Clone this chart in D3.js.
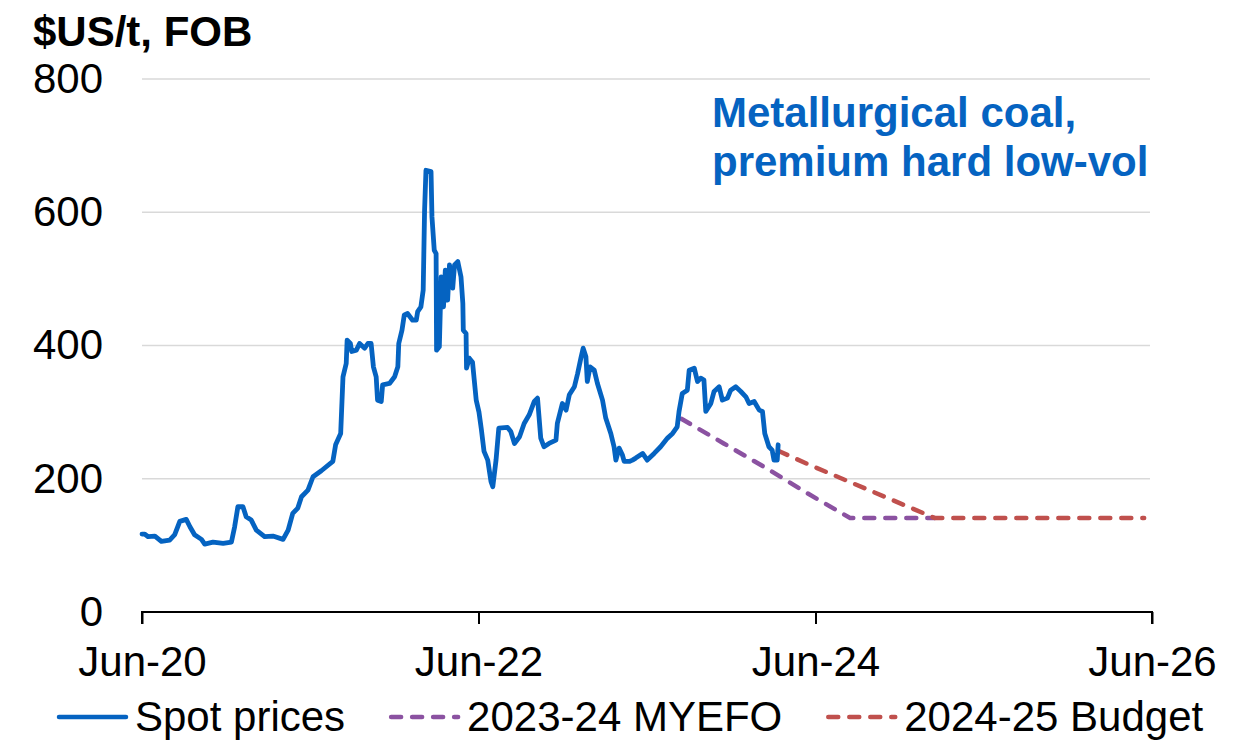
<!DOCTYPE html>
<html>
<head>
<meta charset="utf-8">
<script src="https://cdn.jsdelivr.net/npm/d3@7"></script>
<style>
  html, body { margin: 0; padding: 0; background: #fff; }
  svg { display: block; font-family: "Liberation Sans", Arial, sans-serif; }
</style>
</head>
<body>
<svg id="chart" width="1237" height="742"></svg>
<script>
// ---------------- DATA ----------------
const spotDates = [
  "2020-06-01","2020-06-07","2020-06-14","2020-06-29","2020-07-13","2020-07-31","2020-08-11","2020-08-22",
  "2020-09-05","2020-09-13","2020-09-23","2020-10-08","2020-10-15","2020-11-02","2020-11-24","2020-12-12",
  "2020-12-19","2020-12-26","2021-01-06","2021-01-13","2021-01-24","2021-02-04","2021-02-22","2021-03-12",
  "2021-04-03","2021-04-14","2021-04-24","2021-05-05","2021-05-13","2021-05-27","2021-06-07","2021-06-25",
  "2021-07-20","2021-07-26","2021-08-06","2021-08-11","2021-08-18","2021-08-20","2021-08-27","2021-08-30",
  "2021-09-09","2021-09-16","2021-09-27","2021-10-04","2021-10-11","2021-10-16","2021-10-22","2021-10-25",
  "2021-11-02","2021-11-05","2021-11-20","2021-12-01","2021-12-08","2021-12-10","2021-12-17","2021-12-22",
  "2021-12-29","2022-01-09","2022-01-17","2022-01-20","2022-01-27","2022-02-01","2022-02-04","2022-02-07",
  "2022-02-18","2022-02-20","2022-02-25","2022-03-01","2022-03-02","2022-03-08","2022-03-12","2022-03-17",
  "2022-03-21","2022-03-26","2022-03-30","2022-04-06","2022-04-10","2022-04-17","2022-04-24","2022-04-28",
  "2022-04-29","2022-05-05","2022-05-06","2022-05-12","2022-05-19","2022-05-27","2022-06-02","2022-06-07",
  "2022-06-13","2022-06-21","2022-06-28","2022-07-02","2022-07-09","2022-07-15","2022-08-03","2022-08-10",
  "2022-08-18","2022-08-29","2022-09-08","2022-09-19","2022-09-30","2022-10-07","2022-10-14","2022-10-21",
  "2022-11-01","2022-11-16","2022-11-19","2022-11-30","2022-12-08","2022-12-15","2022-12-26","2023-01-02",
  "2023-01-09","2023-01-14","2023-01-20","2023-01-23","2023-01-29","2023-02-07","2023-02-14","2023-02-25",
  "2023-03-04","2023-03-15","2023-03-22","2023-03-26","2023-04-02","2023-04-09","2023-04-13","2023-04-24",
  "2023-05-01","2023-05-08","2023-05-23","2023-06-02","2023-06-17","2023-07-01","2023-07-16","2023-07-27",
  "2023-08-06","2023-08-10","2023-08-17","2023-08-28","2023-09-01","2023-09-12","2023-09-19","2023-09-26",
  "2023-10-03","2023-10-07","2023-10-18","2023-10-25","2023-11-05","2023-11-12","2023-11-23","2023-11-30",
  "2023-12-11","2023-12-22","2024-01-02","2024-01-09","2024-01-20","2024-01-31","2024-02-07","2024-02-12",
  "2024-02-21","2024-02-28","2024-03-03","2024-03-10","2024-03-12"
];
const spotValues = [
  117,117,113,114,106,108,116,136,
  139,128,116,109,102,105,103,105,
  128,158,158,143,138,123,113,114,
  109,123,148,156,173,183,203,212,
  226,251,268,353,373,408,403,391,
  393,403,396,403,403,368,353,318,
  316,341,343,353,368,403,423,446,
  448,438,438,451,458,483,603,663,
  661,593,543,538,393,398,503,458,
  513,468,521,486,521,526,503,463,
  423,418,366,381,375,318,300,275,
  241,228,196,188,228,276,277,271,
  253,263,283,296,316,321,261,248,
  253,258,283,313,303,326,338,358,
  381,396,383,346,368,363,343,318,
  291,268,248,228,246,236,226,226,
  228,231,238,228,238,248,261,268,
  278,301,328,333,363,366,346,351,
  348,301,313,331,338,318,321,333,
  338,331,323,313,316,303,301,268,
  248,243,228,228,251
];

const myefoDates  = ["2023-08-15","2023-11-15","2024-02-15","2024-05-15","2024-08-15","2024-11-15","2025-02-15"];
const myefoValues = [290, 253, 216, 178, 141, 141, 141];

const budgetDates  = ["2024-03-12","2024-05-15","2024-08-15","2024-11-15","2025-02-15","2025-05-15","2025-08-15",
                      "2025-11-15","2026-02-15","2026-05-15"];
const budgetValues = [242, 222, 195, 168, 141, 141, 141, 141, 141, 141];

const xTickDates  = ["2020-06-01","2022-06-01","2024-06-01","2026-06-01"];
const yTickValues = [0, 200, 400, 600, 800];

const seriesNames = ["Spot prices", "2023-24 MYEFO", "2024-25 Budget"];
const seriesColors = ["#0563C1", "#8B52A1", "#C0504D"];

// ---------------- CHART ----------------
const parse = d3.timeParse("%Y-%m-%d");
const svg = d3.select("#chart");
const FS = 42;

const x = d3.scaleTime()
  .domain([parse("2020-06-01"), parse("2026-06-01")])
  .range([142, 1152]);
const y = d3.scaleLinear().domain([0, 800]).range([612, 79]);

// gridlines
svg.append("g").selectAll("line")
  .data(yTickValues.filter(v => v > 0))
  .join("line")
  .attr("x1", 142).attr("x2", 1150)
  .attr("y1", d => y(d)).attr("y2", d => y(d))
  .attr("stroke", "#d9d9d9").attr("stroke-width", 1.5);

// y labels
const yAxis = svg.append("g")
  .attr("transform", "translate(142,0)")
  .call(d3.axisLeft(y).tickValues(yTickValues).tickSize(0).tickPadding(39).tickFormat(d3.format("d")));
yAxis.select(".domain").remove();
yAxis.selectAll("text").attr("font-size", FS).attr("fill", "#000")
  .attr("font-family", "Liberation Sans, Arial, sans-serif");

// x axis
const xAxis = svg.append("g")
  .attr("transform", `translate(0,${y(0)})`)
  .call(d3.axisBottom(x).tickValues(xTickDates.map(parse)).tickSize(12).tickPadding(22)
    .tickFormat(d3.timeFormat("%b-%y")));
xAxis.select(".domain").attr("stroke", "#000").attr("stroke-width", 2)
  .attr("d", `M${x(parse("2020-06-01"))},12V0H${x(parse("2026-06-01"))}V12`);
xAxis.selectAll(".tick line").attr("stroke", "#000").attr("stroke-width", 2);
xAxis.selectAll("text").attr("font-size", FS).attr("fill", "#000")
  .attr("font-family", "Liberation Sans, Arial, sans-serif");

// lines
const line = d3.line().x(d => x(d[0])).y(d => y(d[1])).curve(d3.curveLinear);
const dash = "10,11";

svg.append("path")
  .datum(myefoDates.map((d, i) => [parse(d), myefoValues[i]]))
  .attr("d", line).attr("fill", "none")
  .attr("stroke", seriesColors[1]).attr("stroke-width", 4.5)
  .attr("stroke-dasharray", dash).attr("stroke-linecap", "round");

svg.append("path")
  .datum(budgetDates.map((d, i) => [parse(d), budgetValues[i]]))
  .attr("d", line).attr("fill", "none")
  .attr("stroke", seriesColors[2]).attr("stroke-width", 4.5)
  .attr("stroke-dasharray", dash).attr("stroke-linecap", "round");

svg.append("path")
  .datum(spotDates.map((d, i) => [parse(d), spotValues[i]]))
  .attr("d", line).attr("fill", "none")
  .attr("stroke", seriesColors[0]).attr("stroke-width", 4.8)
  .attr("stroke-linejoin", "round").attr("stroke-linecap", "round");

// title
svg.append("text").attr("x", 33).attr("y", 46)
  .attr("font-size", FS).attr("font-weight", "bold").attr("fill", "#000")
  .text("$US/t, FOB");

// annotation
const ann = svg.append("text").attr("x", 712).attr("y", 127)
  .attr("font-size", FS).attr("font-weight", "bold").attr("fill", "#0563C1");
ann.append("tspan").attr("x", 712).attr("y", 127).text("Metallurgical coal,");
ann.append("tspan").attr("x", 712).attr("y", 176).text("premium hard low-vol");

// legend
const legY = 717;
let lx = 57;
const dashes = [null, dash, dash];
seriesNames.forEach((name, i) => {
  svg.append("line")
    .attr("x1", lx + 2).attr("x2", lx + 69).attr("y1", legY).attr("y2", legY)
    .attr("stroke", seriesColors[i]).attr("stroke-width", 4.5)
    .attr("stroke-linecap", "round")
    .attr("stroke-dasharray", dashes[i]);
  const t = svg.append("text").attr("x", lx + 78).attr("y", legY + 14)
    .attr("font-size", FS).attr("fill", "#000").text(name);
  lx += 78 + t.node().getComputedTextLength() + 44;
});
</script>
</body>
</html>
